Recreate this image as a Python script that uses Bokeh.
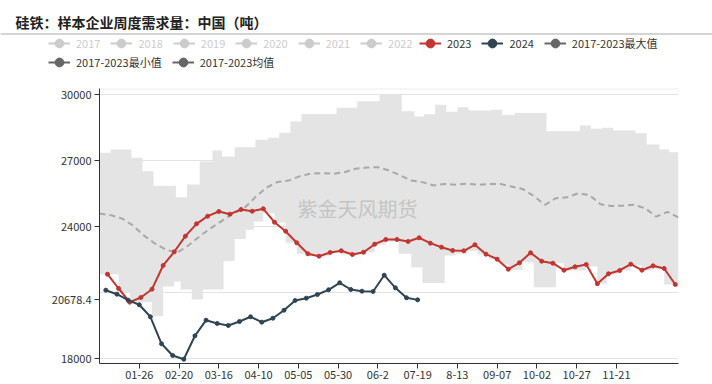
import pandas as pd
from bokeh.plotting import figure
from bokeh.layouts import column
from bokeh.models import Range1d, FixedTicker, Legend, LegendItem, Label, Span
from bokeh.embed import file_html
from bokeh.resources import INLINE

TITLE = "硅铁：样本企业周度需求量：中国（吨）"
YEAR = 2024
END_DATE = "12-30"

DATES_2023 = ["01-06", "01-13", "01-20", "01-27", "02-03", "02-10", "02-17", "02-24", "03-02", "03-09",
              "03-16", "03-23", "03-30", "04-06", "04-13", "04-20", "04-27", "05-04", "05-11", "05-18",
              "05-25", "06-01", "06-08", "06-15", "06-22", "06-29", "07-06", "07-13", "07-20", "07-27",
              "08-03", "08-10", "08-17", "08-24", "08-31", "09-07", "09-14", "09-21", "09-28", "10-05",
              "10-12", "10-19", "10-26", "11-02", "11-09", "11-16", "11-23", "11-30", "12-07", "12-14",
              "12-21", "12-28"]
VALUES_2023 = [21845, 21195, 20573, 20786, 21164, 22241, 22864, 23573, 24136, 24482,
               24695, 24573, 24786, 24709, 24818, 24209, 23800, 23273, 22773, 22664,
               22832, 22909, 22741, 22845, 23209, 23423, 23423, 23332, 23500, 23255,
               23073, 22923, 22909, 23182, 22755, 22527, 22073, 22364, 22818, 22436,
               22345, 22027, 22182, 22286, 21409, 21864, 22014, 22300, 22027, 22227,
               22105, 21377]

DATES_2024 = ["01-05", "01-12", "01-19", "01-26", "02-02", "02-09", "02-16", "02-23", "03-01", "03-08",
              "03-15", "03-22", "03-29", "04-05", "04-12", "04-19", "04-26", "05-03", "05-10", "05-17",
              "05-24", "05-31", "06-07", "06-14", "06-21", "06-28", "07-05", "07-12", "07-19"]
VALUES_2024 = [21118, 20936, 20664, 20455, 19909, 18682, 18150, 17980, 19045, 19755,
               19605, 19514, 19695, 19909, 19664, 19845, 20209, 20650, 20755, 20923,
               21136, 21455, 21150, 21073, 21059, 21800, 21227, 20773, 20678.4]

MEAN_DATES = ["01-01", "01-08", "01-15", "01-22", "01-29", "02-05", "02-12", "02-19", "02-26", "03-04",
              "03-11", "03-18", "03-25", "04-01", "04-08", "04-15", "04-22", "04-29", "05-06", "05-13",
              "05-20", "05-27", "06-03", "06-10", "06-17", "06-24", "07-01", "07-08", "07-15", "07-22",
              "07-29", "08-05", "08-12", "08-19", "08-26", "09-02", "09-09", "09-16", "09-23", "09-30",
              "10-07", "10-14", "10-21", "10-28", "11-04", "11-11", "11-18", "11-25", "12-02", "12-09",
              "12-16", "12-23", "12-30"]
MEAN_VALUES = [24600, 24530, 24380, 24060, 23600, 23230, 22950, 22830, 23160, 23570,
               23940, 24270, 24600, 24850, 25350, 25780, 26040, 26100, 26300, 26420,
               26440, 26410, 26480, 26640, 26690, 26710, 26560, 26340, 26100, 26030,
               25880, 25950, 25910, 25960, 25910, 25940, 25950, 25830, 25720, 25400,
               25000, 25300, 25340, 25520, 25440, 25020, 24940, 24960, 25000, 24850,
               24460, 24680, 24420]

MAX_DATES = ["01-01", "01-08", "01-21", "01-28", "02-04", "02-18", "02-25", "03-04", "03-12", "03-18",
             "03-26", "04-08", "04-16", "04-23", "04-30", "05-07", "05-29", "06-11", "06-25", "07-09",
             "07-17", "07-23", "07-30", "08-06", "08-13", "08-20", "09-03", "09-10", "09-18", "10-08",
             "10-29", "11-05", "11-12", "11-19", "12-03", "12-10", "12-18", "12-24"]
MAX_VALUES = [27360, 27510, 27140, 26530, 25870, 25345, 25920, 26970, 27470, 27195,
              27620, 27955, 28045, 28275, 28790, 29125, 29410, 29710, 30010, 29250,
              29014, 29110, 29550, 29225, 29436, 29290, 29318, 29080, 29170, 28340,
              28605, 28455, 28500, 28377, 28250, 27741, 27514, 27390]

MIN_DATES = ["01-01", "01-13", "01-20", "02-03", "02-10", "02-17", "02-21", "02-28", "03-06", "03-19",
             "03-26", "04-02", "04-07", "04-13", "04-20", "04-27", "05-04", "05-11", "05-25", "06-01",
             "06-15", "06-22", "06-29", "07-07", "07-15", "07-22", "08-05", "08-12", "08-19", "08-26",
             "09-02", "09-09", "09-14", "09-23", "09-30", "10-14", "10-19", "11-02", "11-09", "11-15",
             "11-23", "11-30", "12-07", "12-14", "12-21"]
MIN_VALUES = [21840, 21020, 20570, 19930, 21290, 21510, 21150, 20690, 21150, 22440,
              23450, 23860, 24240, 24620, 24200, 23270, 22770, 22660, 22830, 22740,
              22840, 23200, 23330, 22770, 22164, 21450, 22700, 22770, 22900, 22750,
              22520, 22300, 22045, 22391, 21255, 22340, 22014, 22200, 21409, 21860,
              22014, 22250, 22027, 22091, 21377]

X_TICK_DATES = ["01-26", "02-20", "03-16", "04-10", "05-05", "05-30", "06-24", "07-19",
                "08-13", "09-07", "10-02", "10-27", "11-21"]
X_TICK_LABELS = ["01-26", "02-20", "03-16", "04-10", "05-05", "05-30", "06-2", "07-19",
                 "8-13", "09-07", "10-02", "10-27", "11-21"]
Y_TICKS = [18000, 21000, 24000, 27000, 30000]
CROSS_VALUE = 20678.4
Y_LABEL_TICKS = [18000, CROSS_VALUE, 24000, 27000, 30000]

GRAY_YEARS = ["2017", "2018", "2019", "2020", "2021", "2022"]
LEGEND_MAIN = ["2023", "2024", "2017-2023最大值"]
LEGEND_ROW2 = ["2017-2023最小值", "2017-2023均值"]
WATERMARK = "紫金天风期货"

RED = "#c23531"
NAVY = "#2f4554"
FONT = "Noto Sans CJK SC"


def day(md):
    return (pd.Timestamp(f"{YEAR}-{md}") - pd.Timestamp(f"{YEAR}-01-01")).days


def value_at(days, vals, d):
    v = vals[0]
    for dd, vv in zip(days, vals):
        if dd <= d:
            v = vv
    return v


end_day = day(END_DATE)
max_days = [day(d) for d in MAX_DATES]
min_days = [day(d) for d in MIN_DATES]
breaks = sorted(set(max_days) | set(min_days))
band_x, band_lo, band_hi = [], [], []
for i, b in enumerate(breaks):
    nb = breaks[i + 1] if i + 1 < len(breaks) else end_day
    lo = value_at(min_days, MIN_VALUES, b)
    hi = value_at(max_days, MAX_VALUES, b)
    band_x += [b, nb]
    band_lo += [lo, lo]
    band_hi += [hi, hi]

# ---------------- header (title + legend) ----------------
TOP_H = 75
top = figure(width=712, height=TOP_H, output_backend="svg", toolbar_location=None,
             x_range=Range1d(0, 712), y_range=Range1d(TOP_H, 0),
             x_axis_type=None, y_axis_type=None, min_border=0)
top.frame_align = False
top.grid.visible = False
top.outline_line_color = None
top.border_fill_color = "white"
top.background_fill_color = "white"

top.add_layout(Label(x=15, y=21, text=TITLE, text_font=FONT, text_font_size="14px",
                     text_font_style="bold", text_color="#222222", text_baseline="middle"))
top.segment(x0=[0], y0=[33.5], x1=[712], y1=[33.5], line_color="#aaaaaa", line_width=1)


def make_legend(fig, labels, colors, text_color, vx, vy):
    items = []
    for lab, col in zip(labels, colors):
        r1 = fig.line(x=[float("nan")], y=[float("nan")], line_color=col, line_width=2)
        r2 = fig.scatter(x=[float("nan")], y=[float("nan")], fill_color=col, line_color=col)
        items.append(LegendItem(label=lab, renderers=[r1, r2]))
    leg = Legend(items=items, orientation="horizontal", location=(vx, vy),
                 label_text_font=FONT, label_text_font_size="11px", label_text_color=text_color,
                 glyph_width=22, glyph_height=24, label_standoff=6, spacing=10, padding=0,
                 margin=0, border_line_color=None, background_fill_alpha=0, label_height=24)
    fig.add_layout(leg)


make_legend(top, GRAY_YEARS, ["#cccccc"] * 6, "#cccccc", 48, TOP_H - 54.7)
make_legend(top, LEGEND_MAIN, [RED, NAVY, "#666666"], "#333333", 419, TOP_H - 54.7)
make_legend(top, LEGEND_ROW2, ["#666666", "#666666"], "#333333", 48, TOP_H - 73.7)

# ---------------- main chart ----------------
MAIN_H = 308
p = figure(width=712, height=MAIN_H, output_backend="svg", toolbar_location=None,
           x_range=Range1d(0, end_day), y_range=Range1d(17786, 30286),
           min_border_left=99, min_border_right=34, min_border_top=13, min_border_bottom=20)
p.frame_align = False
p.outline_line_color = None
p.background_fill_color = "white"
p.border_fill_color = "white"

p.xgrid.visible = False
p.ygrid.ticker = FixedTicker(ticks=Y_TICKS)
p.ygrid.grid_line_color = "#e3e3e3"
p.add_layout(Span(location=30272, dimension="width", line_color="#e3e3e3", line_width=1))

p.varea(x=band_x, y1=band_lo, y2=band_hi, fill_color="#e4e4e4")

p.line([day(d) for d in MEAN_DATES], MEAN_VALUES, line_color="#a8a8a8", line_width=2, line_dash="6 4")

x23 = [day(d) for d in DATES_2023]
p.line(x23, VALUES_2023, line_color=RED, line_width=2)
p.scatter(x23, VALUES_2023, size=4, fill_color=RED, line_color=RED)

x24 = [day(d) for d in DATES_2024]
p.line(x24, VALUES_2024, line_color=NAVY, line_width=2)
p.scatter(x24, VALUES_2024, size=4, fill_color=NAVY, line_color=NAVY)

p.add_layout(Label(x=198, y=155, x_units="screen", y_units="screen", text=WATERMARK,
                   text_font=FONT, text_font_size="20px", text_color="#c4c4c4",
                   text_baseline="middle"))

xa = p.xaxis[0]
xa.ticker = FixedTicker(ticks=[day(d) for d in X_TICK_DATES])
xa.major_label_overrides = {day(d): t for d, t in zip(X_TICK_DATES, X_TICK_LABELS)}
xa.minor_tick_line_color = None
xa.major_tick_in = 0
xa.major_tick_out = 5
xa.major_label_standoff = 2
xa.axis_line_color = "#333333"
xa.major_tick_line_color = "#333333"
xa.major_label_text_font = FONT
xa.major_label_text_font_size = "11px"
xa.major_label_text_color = "#333333"

ya = p.yaxis[0]
ya.ticker = FixedTicker(ticks=Y_LABEL_TICKS)
ya.major_label_overrides = {CROSS_VALUE: f"{CROSS_VALUE}"}
ya.minor_tick_line_color = None
ya.major_tick_in = 0
ya.major_tick_out = 5
ya.major_label_standoff = 3
ya.axis_line_color = "#333333"
ya.major_tick_line_color = "#333333"
ya.major_label_text_font = FONT
ya.major_label_text_font_size = "11px"
ya.major_label_text_color = "#333333"

layout = column(top, p, spacing=0)
open("out.html", "w").write(file_html(layout, INLINE))
